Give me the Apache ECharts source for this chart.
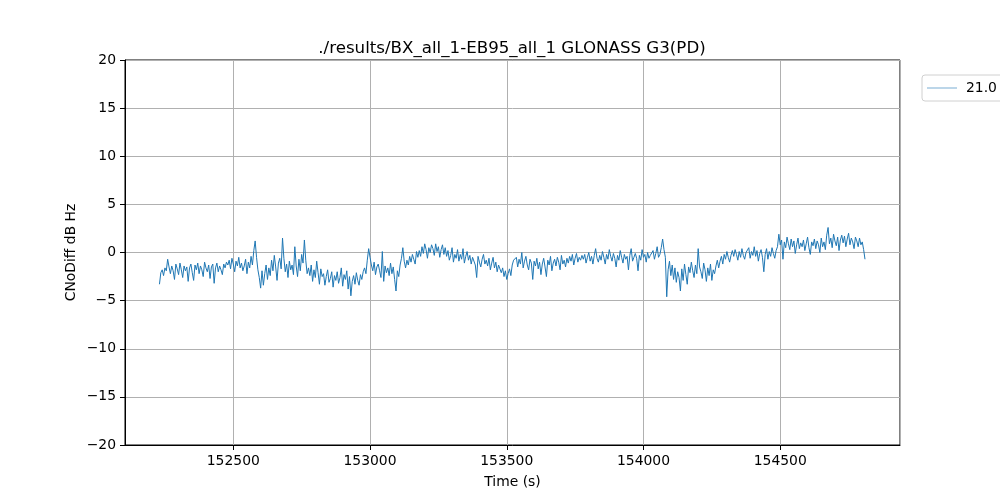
<!DOCTYPE html>
<html>
<head>
<meta charset="utf-8">
<script src="https://cdn.jsdelivr.net/npm/echarts@6/dist/echarts.min.js"></script>
<style>html,body{margin:0;padding:0;background:#fff}#c{width:1000px;height:500px}</style>
</head>
<body>
<div id="c"></div>
<script>
const titleText = './results/BX_all_1-EB95_all_1 GLONASS G3(PD)';
const seriesName = '21.0';
const xLabel = 'Time (s)';
const yLabel = 'CNoDiff dB Hz';
const timeStart = 152230;   // first sample time (s)
const timeStep = 5;         // sample spacing (s)
const yTicks = [-20, -15, -10, -5, 0, 5, 10, 15, 20];
// CNo difference values (dB Hz), one per sample
const cnoDiff = [
 -3.3,-2.1,-1.8,-2.4,-1.6,-1.9,-0.7,-1.5,-2.2,-1.4,
 -1.9,-2.8,-1.2,-1.7,-2.3,-1.1,-1.8,-2.6,-1.4,-1.9,
 -1.5,-3.0,-1.6,-1.2,-2.1,-2.9,-1.3,-1.8,-1.1,-2.2,
 -1.4,-1.8,-2.5,-1.0,-1.6,-2.0,-1.3,-2.7,-1.5,-1.2,
 -3.2,-1.6,-1.1,-2.0,-1.4,-1.8,-2.3,-1.2,-1.6,-1.0,
 -1.3,-0.8,-1.7,-0.6,-1.2,-2.0,-0.9,-1.4,-0.5,-1.6,
 -1.1,-1.9,-1.4,-0.7,-2.2,-1.0,-1.6,-0.4,-1.3,0.2,
 1.2,-0.5,-1.8,-2.6,-3.7,-1.9,-3.4,-2.2,-1.3,-2.8,
 -1.6,-2.4,-0.8,-1.9,-0.3,-1.5,-2.9,-1.1,-0.6,-1.7,
 1.5,-0.6,-2.0,-1.2,-2.6,-0.9,-1.8,-1.3,-2.3,0.6,
 -1.4,-2.5,-0.7,-1.9,-0.2,-1.1,1.3,-0.8,-2.2,-1.6,
 -2.4,-1.3,-3.0,-1.8,-2.6,-0.9,-2.1,-3.3,-1.7,-2.5,
 -2.2,-3.4,-2.5,-1.8,-3.1,-2.7,-2.0,-3.6,-2.4,-2.9,
 -2.0,-3.2,-2.6,-1.6,-3.5,-2.3,-2.8,-1.9,-3.8,-2.5,
 -4.5,-3.0,-2.4,-3.3,-2.1,-2.9,-3.4,-2.3,-2.8,-2.0,
 -1.6,-2.2,-0.8,0.4,-0.5,-1.3,-1.9,-1.0,-2.3,-1.5,
 -1.2,-1.9,-2.6,0.1,-3.0,-1.4,-2.1,-1.6,-2.4,-1.1,
 -2.2,-1.5,-2.8,-4.0,-1.9,-2.5,-1.3,-0.6,0.5,-0.9,
 -1.6,-0.8,-1.3,-0.4,-1.0,-0.2,-0.7,-1.2,0.1,-0.5,
 0.2,-0.4,0.6,-0.1,0.9,0.3,-0.6,0.5,0.0,0.8,
 0.4,-0.3,0.9,0.1,0.6,-0.5,0.3,0.8,-0.2,0.5,
 -0.4,0.2,-0.8,-0.3,0.5,-1.0,-0.2,-0.6,0.3,-0.9,
 -0.2,-0.7,0.4,-1.1,-0.4,0.1,-0.8,-0.3,-1.2,-0.5,
 -0.6,-1.3,-2.6,-0.4,-1.0,-1.5,-0.7,-0.2,-1.2,-0.8,
 -1.4,-0.6,-1.8,-1.1,-0.5,-1.6,-1.0,-2.0,-1.3,-1.7,
 -2.1,-1.6,-2.5,-1.9,-2.8,-2.2,-1.7,-2.4,-1.3,-0.8,
 -1.0,-0.5,-1.5,-0.7,-1.2,0.0,-1.6,-0.9,-0.4,-1.3,
 -1.8,-0.7,-1.1,-2.8,-0.9,-1.4,-0.6,-1.7,-1.0,-2.3,
 -1.2,-0.6,-1.5,-2.5,-0.8,-1.3,-0.4,-1.9,-1.1,-0.7,
 -1.4,-0.5,-1.0,-1.8,-0.3,-1.2,-0.8,-1.5,-0.6,-1.1,
 -0.4,-0.9,-0.2,-1.3,-0.6,-0.1,-1.0,-0.5,-0.8,-0.3,
 -0.7,-0.2,-1.1,-0.5,0.0,-0.9,-0.4,-1.2,-0.3,0.4,
 -0.6,-1.0,-0.3,-0.8,0.1,-0.5,-1.2,-0.2,-0.7,0.3,
 -0.4,-0.9,-0.1,-0.6,-1.5,-0.3,-0.8,0.2,-0.5,-1.1,
 -0.2,-0.7,-0.4,-1.8,-0.3,0.4,-0.9,-0.5,-0.1,-0.6,
 -1.9,-0.3,-0.8,0.3,-0.5,-0.2,-1.0,0.0,-0.6,-0.3,
 -0.4,0.2,-0.7,-0.1,0.6,-0.5,-0.2,0.5,1.4,0.3,
 -0.5,-4.6,-1.8,-0.9,-2.4,-1.3,-2.8,-1.6,-3.1,-2.0,
 -2.6,-4.0,-1.7,-2.9,-1.2,-2.3,-3.3,-1.5,-2.1,-1.0,
 -1.9,-2.6,-1.3,-2.2,0.4,-1.5,-2.0,-2.7,-1.1,-1.8,
 -3.0,-1.6,-2.4,-1.2,-2.9,-1.8,-2.2,-1.4,-0.8,-1.6,
 -0.9,-0.4,-1.2,-0.2,-0.7,0.1,-0.5,-1.0,-0.3,0.2,
 -0.4,0.3,-0.2,-0.8,0.1,-0.5,0.4,-0.3,-0.7,0.0,
 -0.2,0.5,-0.6,0.1,-0.3,0.6,-0.4,0.2,-0.9,-0.1,
 0.3,-0.5,-2.0,-0.2,0.4,-0.7,0.1,-0.4,0.5,-0.1,
 -0.6,0.2,0.6,1.9,0.8,1.3,-0.7,1.1,0.5,1.6,
 0.9,0.3,1.4,0.6,1.2,-0.1,0.8,1.5,0.4,1.0,
 0.6,1.3,0.2,0.9,1.6,0.5,-0.2,1.1,0.7,1.4,
 0.4,1.2,0.8,0.0,1.5,0.6,1.1,0.3,1.8,2.6,
 0.9,1.5,0.5,1.9,1.2,0.7,1.6,0.2,1.3,1.8,
 1.0,1.7,0.6,1.4,2.0,0.8,1.5,1.1,0.4,1.6,
 1.2,0.6,1.5,0.8,1.1,0.3,-0.7
];
const sampleTimes = cnoDiff.map((_, i) => timeStart + i * timeStep);
const seriesData = cnoDiff.map((v, i) => [sampleTimes[i], v]);

const font = 'DejaVu Sans';
const chart = echarts.init(document.getElementById('c'), null, {renderer: 'canvas'});
chart.setOption({
  animation: false,
  backgroundColor: '#ffffff',
  title: {
    text: titleText, left: 507, top: 35, textAlign: 'center',
    textStyle: {fontFamily: font, fontSize: 16.67, fontWeight: 'normal', color: '#000'}
  },
  legend: {
    left: 922, top: 75, orient: 'vertical',
    borderColor: '#d0d0d0', borderWidth: 1, borderRadius: 3,
    padding: [6, 8, 6, 5], itemWidth: 30, itemHeight: 10, itemGap: 6,
    textStyle: {fontFamily: font, fontSize: 13.9, color: '#000', padding: [0, 0, 0, 4]},
    data: [{name: seriesName, icon: 'path://M0,5 L30,5 L30,5.6 L0,5.6 Z'}]
  },
  grid: {left: 125, right: 100, top: 60, bottom: 55, show: true, borderColor: '#000', borderWidth: 1, backgroundColor: 'transparent'},
  xAxis: {
    type: 'value', min: 152104, max: 154938, splitNumber: 5,
    name: xLabel, nameLocation: 'middle', nameGap: 30,
    nameTextStyle: {fontFamily: font, fontSize: 13.9, color: '#000'},
    axisLine: {show: true, onZero: false, lineStyle: {color: '#000', width: 1}},
    axisTick: {show: true, inside: false, length: 5, lineStyle: {color: '#000'}},
    axisLabel: {fontFamily: font, fontSize: 13.9, color: '#000', margin: 9, showMinLabel: false, showMaxLabel: false,
      formatter: v => String(v)},
    splitLine: {show: true, lineStyle: {color: '#b0b0b0', width: 1}}
  },
  yAxis: {
    type: 'value', min: yTicks[0], max: yTicks[yTicks.length - 1], interval: 5,
    name: yLabel, nameLocation: 'middle', nameGap: 47, nameMoveOverlap: false,
    nameTextStyle: {fontFamily: font, fontSize: 13.9, color: '#000'},
    axisLine: {show: true, onZero: false, lineStyle: {color: '#000', width: 1}},
    axisTick: {show: true, inside: false, length: 5, lineStyle: {color: '#000'}},
    axisLabel: {fontFamily: font, fontSize: 13.9, color: '#000', margin: 9,
      formatter: v => (v < 0 ? '\u2212' + Math.abs(v) : String(v))},
    splitLine: {show: true, lineStyle: {color: '#b0b0b0', width: 1}}
  },
  series: [{
    name: seriesName, type: 'line', data: seriesData,
    symbol: 'none', showSymbol: false,
    lineStyle: {color: '#1f77b4', width: 1},
    itemStyle: {color: '#1f77b4'}
  }]
});
</script>
</body>
</html>
